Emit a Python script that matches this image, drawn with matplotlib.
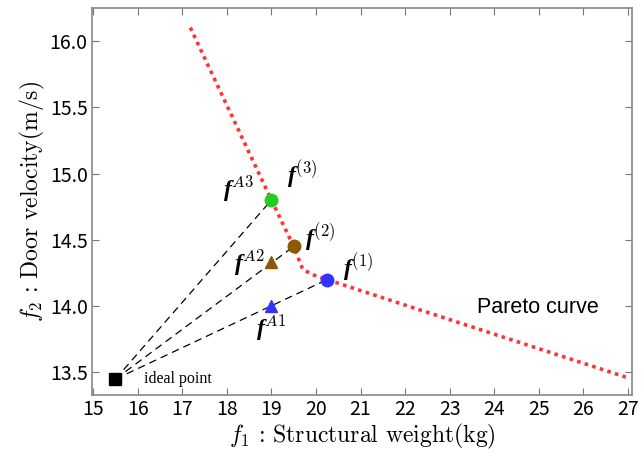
import matplotlib
matplotlib.use("Agg")
import matplotlib.pyplot as plt

plt.rcParams['mathtext.fontset'] = 'custom'
plt.rcParams['mathtext.rm'] = 'cmr10'
plt.rcParams['mathtext.it'] = 'cmmi10'
plt.rcParams['mathtext.bf'] = 'Liberation Serif:bold:italic'
plt.rcParams['axes.formatter.use_mathtext'] = False

# Data
pareto_x = [17.18, 19.0, 19.5, 19.7, 19.9, 20.25, 27.0]
pareto_y = [16.1, 14.8, 14.45, 14.28, 14.24, 14.2, 13.46]
ideal = (15.5, 13.45)
f_labels = ["(1)", "(2)", "(3)"]
f_x = [20.25, 19.5, 19.0]
f_y = [14.2, 14.45, 14.8]
f_colors = ["#3333ff", "#8b5a00", "#22cc22"]
a_labels = ["A1", "A2", "A3"]
a_x = [19.0, 19.0, 19.0]
a_y = [14.0, 14.33, 14.8]
xticks = list(range(15, 28))
yticks = [13.5, 14.0, 14.5, 15.0, 15.5, 16.0]

fig = plt.figure(figsize=(6.42, 4.53), dpi=100)
ax = fig.add_axes([0.143, 0.128, 0.842, 0.855])

ax.plot(pareto_x, pareto_y, linestyle=(0, (1, 1.2)), color="#ff3333", lw=2.6, zorder=2)
for x, y in zip(f_x, f_y):
    ax.plot([ideal[0], x], [ideal[1], y], color="black", lw=0.9, linestyle=(0, (6, 4)), zorder=1)
for x, y, c in zip(a_x[:2], a_y[:2], f_colors[:2]):
    ax.plot(x, y, marker="^", color=c, markersize=9, zorder=3)
for x, y, c in zip(f_x, f_y, f_colors):
    ax.plot(x, y, marker="o", color=c, markersize=9, zorder=4)
ax.plot(*ideal, marker="s", color="black", markersize=8, zorder=4)

fs = 17
ax.text(20.6, 14.17, r"$\mathbf{f}^{(1)}$", fontsize=fs, ha="left", va="bottom")
ax.text(19.75, 14.39, r"$\mathbf{f}^{(2)}$", fontsize=fs, ha="left", va="bottom")
ax.text(19.35, 14.87, r"$\mathbf{f}^{(3)}$", fontsize=fs, ha="left", va="bottom")
ax.text(18.6, 14.77, r"$\mathbf{f}^{A3}$", fontsize=fs, ha="right", va="bottom")
ax.text(18.85, 14.21, r"$\mathbf{f}^{A2}$", fontsize=fs, ha="right", va="bottom")
ax.text(18.65, 13.72, r"$\mathbf{f}^{A1}$", fontsize=fs, ha="left", va="bottom")
ax.text(16.15, 13.45, "ideal point", fontsize=11.5, family="Liberation Serif", ha="left", va="center")
ax.text(24.98, 13.99, "Pareto curve", fontsize=15.5, family="Liberation Sans", ha="center", va="center")

ax.set_xlim(14.97, 27.1)
ax.set_ylim(13.33, 16.25)
ax.set_xticks(xticks)
ax.set_yticks(yticks)
ax.set_xticklabels([str(t) for t in xticks], family="Noto Sans CJK JP", fontsize=14)
ax.set_yticklabels([f"{t:.1f}" for t in yticks], family="Noto Sans CJK JP", fontsize=14)
ax.tick_params(direction="in", top=True, right=True, length=5, color="#777777", pad=3)
for s in ax.spines.values():
    s.set_color("#888888")
    s.set_linewidth(1.2)

ax.set_xlabel(r"$f_1$ : Structural weight(kg)", fontsize=17, family="cmr10", labelpad=1)
ax.set_ylabel(r"$f_2$ : Door velocity(m/s)", fontsize=17, family="cmr10", labelpad=2)

fig.savefig("out.png", dpi=100)
